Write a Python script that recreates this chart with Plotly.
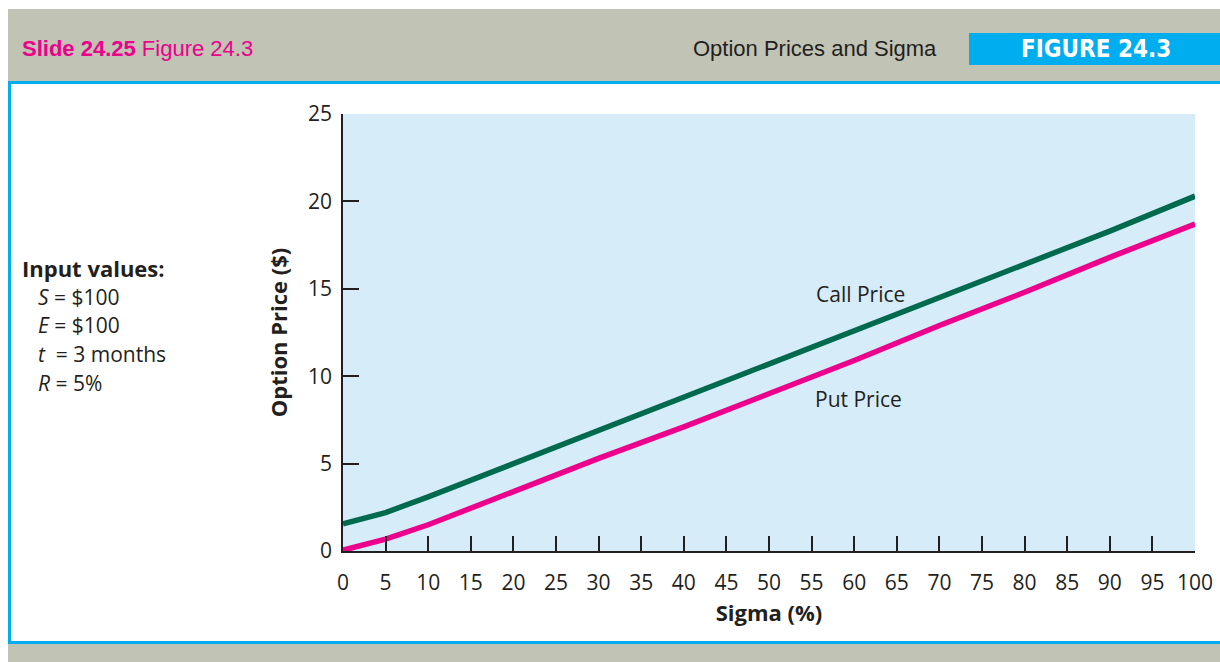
import plotly.graph_objects as go

# ---- data ----
sigma = [0, 5, 10, 20, 30, 40, 50, 60, 70, 80, 90, 100]
call_price = [1.55, 2.2, 3.1, 5.0, 6.9, 8.8, 10.7, 12.6, 14.5, 16.4, 18.3, 20.3]
put_price = [0.05, 0.68, 1.5, 3.4, 5.3, 7.1, 9.0, 10.9, 12.9, 14.8, 16.8, 18.7]
x_ticks = list(range(0, 101, 5))
y_ticks = [0, 5, 10, 15, 20, 25]

W, H = 1220, 662
L, R, T, B = 343, 1195, 114, 551  # plot area in pixels

def px(x):
    return (x - L) / (R - L)

def py(y):
    return (B - y) / (B - T)

TXT = "#231F20"
GREEN = "#006A4E"
MAGENTA = "#EC008C"
BLUE = "#00AEEF"
GRAY = "#C1C3B5"
AXFONT = "Open Sans"

fig = go.Figure()
fig.add_trace(go.Scatter(x=sigma, y=call_price, mode="lines", name="Call Price",
                         line=dict(color=GREEN, width=5.5), cliponaxis=False))
fig.add_trace(go.Scatter(x=sigma, y=put_price, mode="lines", name="Put Price",
                         line=dict(color=MAGENTA, width=5.5), cliponaxis=False))

shapes = []
def rect(x0, y0, x1, y1, color):
    shapes.append(dict(type="rect", xref="paper", yref="paper",
                       x0=px(x0), x1=px(x1), y0=py(y1), y1=py(y0),
                       fillcolor=color, line=dict(width=0), layer="below"))

rect(8, 9, W, 81, GRAY)          # header band
rect(8, 81, W, 84, BLUE)          # header underline
rect(8, 84, 11, 641, BLUE)        # left border
rect(8, 641, W, 644, BLUE)        # bottom line
rect(8, 644, W, H, GRAY)          # footer band
rect(969, 33, W, 65, BLUE)        # FIGURE box

ann = []
def text(x, y, s, size, color=TXT, family=AXFONT, xanchor="left", yanchor="middle"):
    ann.append(dict(xref="paper", yref="paper", x=px(x), y=py(y), text=s,
                    showarrow=False, xanchor=xanchor, yanchor=yanchor,
                    font=dict(size=size, color=color, family=family)))

text(20, 49, "<b>Slide 24.25</b> Figure 24.3", 22, MAGENTA, "Liberation Sans")
text(939, 49, "Option Prices and Sigma", 22, TXT, "Liberation Sans", xanchor="right")
text(1096, 49, "<b>FIGURE 24.3</b>", 24, "white", "DejaVu Sans Condensed", xanchor="center")

text(20, 268, "<b>Input values:</b>", 22)
text(36, 297, "<i>S</i> = $100", 21)
text(36, 325, "<i>E</i> = $100", 21)
text(36, 354, "<i>t</i>  = 3 months", 21)
text(36, 383, "<i>R</i> = 5%", 21)

text(860, 294, "Call Price", 21, xanchor="center")
text(858, 399, "Put Price", 21, xanchor="center")

fig.update_layout(
    width=W, height=H,
    margin=dict(l=L, r=W - R, t=T, b=H - B, pad=0, autoexpand=False),
    paper_bgcolor="white",
    plot_bgcolor="#D6ECF9",
    showlegend=False,
    shapes=shapes,
    annotations=ann,
    xaxis=dict(range=[0, 100], tickvals=x_ticks, ticks="inside", ticklen=15,
               tickwidth=1.5, tickcolor=TXT, showline=True, linecolor=TXT,
               linewidth=1.5, showgrid=False, zeroline=False, automargin=False,
               tickfont=dict(family=AXFONT, size=21, color=TXT),
               ticklabelstandoff=12,
               title=dict(text="<b>Sigma (%)</b>", standoff=11,
                          font=dict(family=AXFONT, size=22, color=TXT))),
    yaxis=dict(range=[0, 25], tickvals=y_ticks, ticks="inside", ticklen=16,
               tickwidth=1.5, tickcolor=TXT, showline=True, linecolor=TXT,
               linewidth=1.5, showgrid=False, zeroline=False, automargin=False,
               tickfont=dict(family=AXFONT, size=21, color=TXT),
               ticklabelstandoff=5,
               title=dict(text="<b>Option Price ($)</b>", standoff=14,
                          font=dict(family=AXFONT, size=22, color=TXT))),
)

# remove the default 8px page margin so the figure fills the window exactly
fig.write_html("out.html",
               config={"displayModeBar": False},
               post_script="document.body.style.margin='0';"
                           "document.body.style.overflow='hidden';")
